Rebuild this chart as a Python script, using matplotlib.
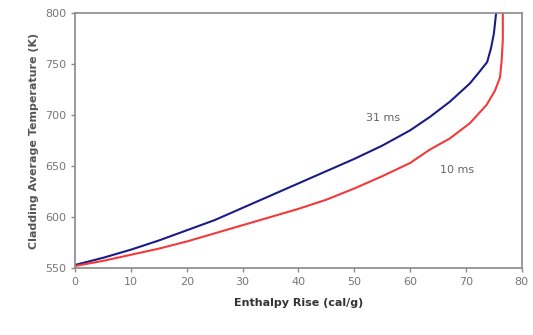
import matplotlib.pyplot as plt

# Enthalpy rise (cal/g) vs cladding average temperature (K)
blue_x = [0, 5, 10, 15, 20, 25, 30, 35, 40, 45, 50, 55, 60, 63.5, 67.1, 70.7, 72.5, 73.8, 74.5, 75.0, 75.4]
blue_y = [553, 560, 568, 577, 587, 597, 609, 621, 633, 645, 657, 670, 685, 698, 713, 731, 743, 752, 766, 780, 800]
red_x = [0, 5, 10, 15, 20, 25, 30, 35, 40, 45, 50, 55, 60, 63.5, 67.1, 70.7, 73.7, 75.2, 76.1, 76.4, 76.6, 76.6]
red_y = [552, 557, 563, 569, 576, 584, 592, 600, 608, 617, 628, 640, 653, 666, 677, 692, 710, 724, 737, 754, 774, 800]

label_blue = "31 ms"
label_red = "10 ms"

fig = plt.figure(figsize=(5.33, 3.35), dpi=100)
ax = fig.add_axes([0.141, 0.2, 0.838, 0.761])

ax.plot(blue_x, blue_y, color='#1c1c86', linewidth=1.5, solid_joinstyle='round')
ax.plot(red_x, red_y, color='#f23a3a', linewidth=1.5, solid_joinstyle='round')

ax.set_xlim(0, 80)
ax.set_ylim(550, 800)
ax.set_xticks(range(0, 81, 10))
ax.set_yticks(range(550, 801, 50))

for s in ax.spines.values():
    s.set_color('#8a8a8a')
    s.set_linewidth(1.2)
ax.tick_params(direction='out', length=3, width=1, colors='#8a8a8a',
               labelcolor='#777777', labelsize=8)

ax.set_xlabel('Enthalpy Rise (cal/g)', fontsize=8, fontweight='bold', color='#333333', labelpad=8)
ax.set_ylabel('Cladding Average Temperature (K)', fontsize=8, fontweight='bold', color='#555555', labelpad=4)

ax.text(55.2, 697, label_blue, fontsize=8, color='#666666', ha='center', va='center')
ax.text(68.4, 646, label_red, fontsize=8, color='#666666', ha='center', va='center')

fig.savefig('out.png', dpi=100)
